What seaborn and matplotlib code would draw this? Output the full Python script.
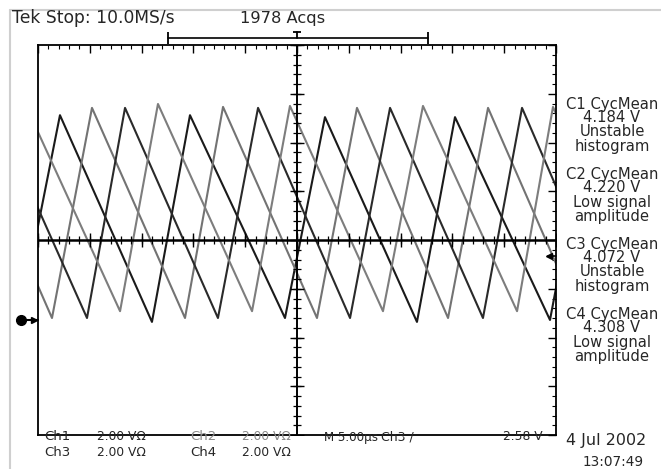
import numpy as np
import pandas as pd
import matplotlib
matplotlib.use('Agg')
import matplotlib.pyplot as plt
import seaborn as sns
from matplotlib.lines import Line2D

# vertices of the four triangle traces (time in us, level in divisions)
ch1_t = [-1.8, 2.12, 11.0, 14.67, 23.84, 27.70, 36.58, 40.25, 49.42, 53.1]
ch1_v = [-1.64, 2.56, -1.68, 2.56, -1.60, 2.52, -1.68, 2.52, -1.64, 2.50]
ch2_t = [-7.5, 1.35, 5.21, 14.19, 17.86, 26.93, 30.79, 39.58, 43.44, 52.3]
ch2_v = [2.70, -1.60, 2.71, -1.60, 2.73, -1.60, 2.71, -1.60, 2.71, -1.60]
ch3_t = [-4.3, 4.73, 8.40, 17.37, 21.24, 30.12, 33.98, 42.95, 46.72, 55.5]
ch3_v = [2.70, -1.60, 2.71, -1.60, 2.71, -1.60, 2.71, -1.60, 2.71, -1.60]
ch4_t = [-1.2, 7.92, 11.58, 20.66, 24.32, 33.30, 37.16, 46.24, 49.71, 58.5]
ch4_v = [2.77, -1.46, 2.79, -1.46, 2.75, -1.46, 2.75, -1.46, 2.73, -1.46]

channels = ['Ch1', 'Ch2', 'Ch3', 'Ch4']
trace_colors = {'Ch1': '#1a1a1a', 'Ch2': '#737373', 'Ch3': '#2a2a2a', 'Ch4': '#7d7d7d'}

meas_labels = [
    ['C1 CycMean', '4.184 V', 'Unstable', 'histogram'],
    ['C2 CycMean', '4.220 V', 'Low signal', 'amplitude'],
    ['C3 CycMean', '4.072 V', 'Unstable', 'histogram'],
    ['C4 CycMean', '4.308 V', 'Low signal', 'amplitude'],
]

ground_level = -1.64
trig_level = -0.33

df = pd.concat([
    pd.DataFrame({'t': ch1_t, 'v': ch1_v, 'ch': 'Ch1'}),
    pd.DataFrame({'t': ch2_t, 'v': ch2_v, 'ch': 'Ch2'}),
    pd.DataFrame({'t': ch3_t, 'v': ch3_v, 'ch': 'Ch3'}),
    pd.DataFrame({'t': ch4_t, 'v': ch4_v, 'ch': 'Ch4'}),
], ignore_index=True)

sns.set_style('white')
plt.rcParams['font.family'] = ['DejaVu Sans']

W, H = 661, 469
fig = plt.figure(figsize=(W / 100, H / 100), dpi=100)
ax = fig.add_axes([38 / W, (H - 435) / H, 518 / W, 390 / H])

sns.lineplot(data=df, x='t', y='v', hue='ch', hue_order=channels, palette=trace_colors,
             estimator=None, sort=False, lw=1.5, legend=False, ax=ax)

ax.set_xlim(0, 50)
ax.set_ylim(-4, 4)
ax.set_xlabel('')
ax.set_ylabel('')
ax.set_xticks(np.arange(0, 51, 5))
ax.set_xticks(np.arange(0, 50.01, 1), minor=True)
ax.set_yticks(np.arange(-4, 4.01, 1))
ax.set_yticks(np.arange(-4, 4.01, 0.2), minor=True)
ax.tick_params(which='both', direction='in', top=True, right=True,
               labelbottom=False, labelleft=False, color='black')
ax.tick_params(which='major', length=6, width=1.0)
ax.tick_params(which='minor', length=3, width=0.8)
for s in ax.spines.values():
    s.set_color('black')
    s.set_linewidth(1.3)

# centre cross with its tick marks
ax.axhline(0, color='black', lw=1.8)
ax.axvline(25, color='black', lw=1.4)
xs = np.arange(0, 50.01, 1)
ys = np.arange(-4, 4.01, 0.2)
ax.plot(xs, np.zeros_like(xs), ls='none', marker='|', ms=6, mew=0.9, color='black')
ax.plot(np.arange(0, 51, 5), np.zeros(11), ls='none', marker='|', ms=10, mew=1.0, color='black')
ax.plot(np.full_like(ys, 25), ys, ls='none', marker='_', ms=6, mew=0.9, color='black')
ax.plot(np.full(9, 25), np.arange(-4, 4.01, 1), ls='none', marker='_', ms=10, mew=1.0, color='black')

# trigger position bar above the graticule
ax.plot([12.55, 37.65], [4.14, 4.14], color='black', lw=1.2, clip_on=False)
ax.plot([12.55, 37.65], [4.14, 4.14], ls='none', marker='|', ms=9, mew=1.3, color='black', clip_on=False)
ax.plot([25, 25], [4.14, 4.26], color='black', lw=1.3, clip_on=False)
ax.plot([25], [4.26], marker='_', ms=6, mew=1.3, color='black', clip_on=False)

# ground marker and trigger level marker
ax.plot([-1.6, 0], [ground_level, ground_level], color='black', lw=1.5, clip_on=False)
ax.plot([-1.6], [ground_level], marker='o', ms=7, color='black', clip_on=False)
ax.plot([-0.4], [ground_level], marker='>', ms=5, color='black', clip_on=False)
ax.plot([49.2, 50], [trig_level, trig_level], color='black', lw=1.2, clip_on=False)
ax.plot([49.3], [trig_level], marker='<', ms=5, color='black', clip_on=False)

# light frame of the screen capture
fig.add_artist(Line2D([10 / W, 10 / W], [0, 1 - 10 / H], color='#cfcfcf', lw=1.5))
fig.add_artist(Line2D([10 / W, 1], [1 - 10 / H, 1 - 10 / H], color='#cfcfcf', lw=1.5))


def put(x, y, s, **kw):
    kw.setdefault('fontsize', 11)
    kw.setdefault('va', 'center')
    fig.text(x / W, 1 - y / H, s, **kw)


put(12, 18, 'Tek Stop: 10.0MS/s', fontsize=12.3)
put(240, 18, '1978 Acqs', fontsize=11.7)

for i, block in enumerate(meas_labels):
    for j, line in enumerate(block):
        put(612, 104 + 70 * i + 14 * j, line, ha='center', fontsize=10.6)

gray = '#8a8a8a'
put(44, 437, 'Ch1', fontsize=9.5)
put(97, 437, '2.00 V\u03a9', fontsize=8.8)
put(190, 437, 'Ch2', fontsize=9.5, color=gray)
put(242, 437, '2.00 V\u03a9', fontsize=8.8, color=gray)
put(324, 437, 'M 5.00\u00b5s', fontsize=8.6)
put(381, 437, 'Ch3 /', fontsize=9)
put(503, 437, '2.58 V', fontsize=8.8)
put(44, 452, 'Ch3', fontsize=9.5)
put(97, 452, '2.00 V\u03a9', fontsize=8.8)
put(190, 452, 'Ch4', fontsize=9.5)
put(242, 452, '2.00 V\u03a9', fontsize=8.8)
put(566, 440, '4 Jul 2002', fontsize=11.5)
put(583, 462, '13:07:49', fontsize=9.8)

fig.savefig('out.png', dpi=100)
